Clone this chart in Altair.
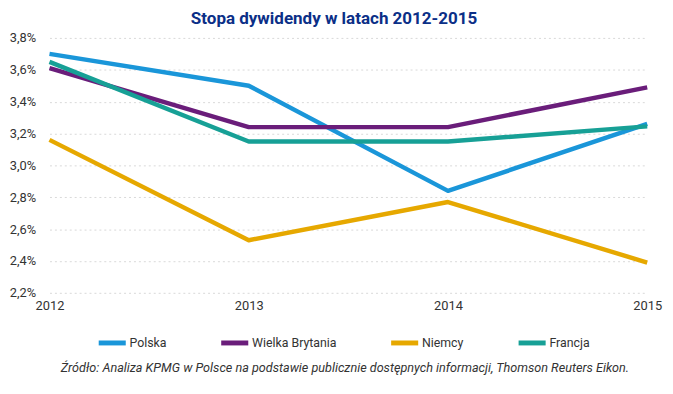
import altair as alt
import pandas as pd

years = [2012, 2013, 2014, 2015]
series_names = ["Polska", "Wielka Brytania", "Niemcy", "Francja"]
polska = [3.70, 3.50, 2.84, 3.26]
wielka_brytania = [3.61, 3.24, 3.24, 3.49]
niemcy = [3.16, 2.53, 2.77, 2.39]
francja = [3.65, 3.15, 3.15, 3.245]
colors = ["#1a96d9", "#6a1d7a", "#e6a800", "#17a096"]
y_ticks = [2.2, 2.4, 2.6, 2.8, 3.0, 3.2, 3.4, 3.6, 3.8]

title_text = "Stopa dywidendy w latach 2012-2015"
footer_text = "Źródło: Analiza KPMG w Polsce na podstawie publicznie dostępnych informacji, Thomson Reuters Eikon."

rows = []
for name, vals in zip(series_names, [polska, wielka_brytania, niemcy, francja]):
    for yr, v in zip(years, vals):
        rows.append({"rok": yr, "seria": name, "wartosc": v})
df = pd.DataFrame(rows)

FONT = "Roboto, Liberation Sans, sans-serif"

base = alt.Chart(df)

lines = base.mark_line(strokeWidth=4.5, strokeCap="butt", strokeJoin="round").encode(
    x=alt.X("rok:Q",
            scale=alt.Scale(domain=[2012, 2015], range=[0, 605], nice=False, zero=False),
            axis=alt.Axis(values=years, format="d", title=None, grid=False, domain=False,
                          ticks=False, labelPadding=7, labelFontSize=13, labelColor="#333333",
                          labelFont=FONT, labelFlush=False)),
    y=alt.Y("wartosc:Q",
            scale=alt.Scale(domain=[2.2, 3.8], nice=False, zero=False),
            axis=alt.Axis(values=y_ticks, title=None, domain=False, ticks=False,
                          labelExpr="replace(format(datum.value, '.1f'), '.', ',') + '%'",
                          labelPadding=14, labelFontSize=13, labelColor="#333333", labelFont=FONT,
                          gridDash=[2, 3], gridColor="#d8d8d8", gridWidth=1)),
    color=alt.Color("seria:N",
                    scale=alt.Scale(domain=series_names, range=colors),
                    legend=alt.Legend(title=None, orient="none", direction="horizontal",
                                      legendX=47, legendY=292, symbolType="stroke",
                                      symbolStrokeWidth=5, symbolSize=750,
                                      labelFontSize=12.5, labelFont=FONT, labelColor="#333333",
                                      columnPadding=44, labelOffset=1)),
    detail="seria:N",
)

title = alt.Chart(pd.DataFrame({"t": [title_text]})).mark_text(
    fontWeight="bold", fontSize=17.2, font=FONT, color="#0b2f87", align="center", baseline="middle"
).encode(x=alt.value(288), y=alt.value(-19), text="t:N")

footer = alt.Chart(pd.DataFrame({"t": [footer_text]})).mark_text(
    fontStyle="italic", fontSize=12.8, font=FONT, color="#333333", align="center", baseline="middle"
).encode(x=alt.value(299), y=alt.value(334), text="t:N")

chart = alt.layer(lines, title, footer).properties(
    width=613, height=258,
    autosize=alt.AutoSizeParams(type="none"),
    padding={"left": 42, "top": 28, "right": 10, "bottom": 90},
).configure_view(stroke=None)

chart.save("out.html", embed_options={"renderer": "svg", "actions": False})
